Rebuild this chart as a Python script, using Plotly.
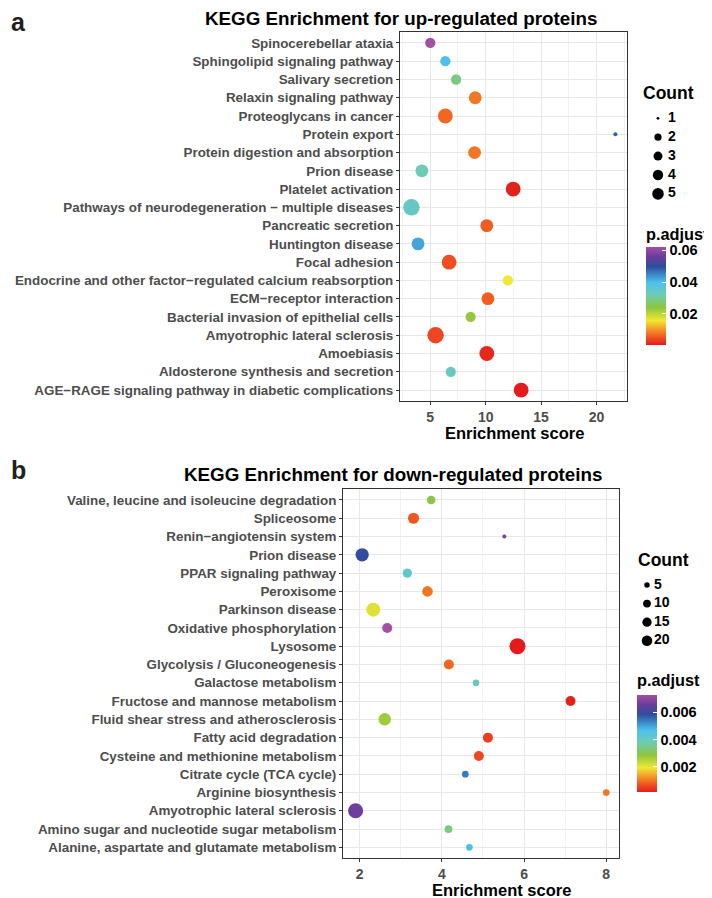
import numpy as np
import plotly.graph_objects as go

W, H = 712, 898
PAD = 8            # browser body margin: the figure starts 8px in
FW, FH = W - PAD, H - PAD

# ---- panel a : up-regulated ----
up_terms = [
    "Spinocerebellar ataxia",
    "Sphingolipid signaling pathway",
    "Salivary secretion",
    "Relaxin signaling pathway",
    "Proteoglycans in cancer",
    "Protein export",
    "Protein digestion and absorption",
    "Prion disease",
    "Platelet activation",
    "Pathways of neurodegeneration − multiple diseases",
    "Pancreatic secretion",
    "Huntington disease",
    "Focal adhesion",
    "Endocrine and other factor−regulated calcium reabsorption",
    "ECM−receptor interaction",
    "Bacterial invasion of epithelial cells",
    "Amyotrophic lateral sclerosis",
    "Amoebiasis",
    "Aldosterone synthesis and secretion",
    "AGE−RAGE signaling pathway in diabetic complications",
]
up_score = [5.0, 6.36, 7.33, 9.06, 6.36, 21.7, 9.0, 4.24, 12.48, 3.3,
            10.1, 3.9, 6.7, 12.0, 10.2, 8.64, 5.48, 10.1, 6.85, 13.2]
up_count = [2, 2, 2, 3, 4, 1, 3, 3, 4, 5, 3, 3, 4, 2, 3, 2, 5, 4, 2, 4]
up_padj = [0.062, 0.0399, 0.0288, 0.0079, 0.0067, 0.0485, 0.0079, 0.0325, 0.0011, 0.0343,
           0.006, 0.0423, 0.0048, 0.016, 0.006, 0.0233, 0.0042, 0.0017, 0.0337, 0.0005]

# ---- panel b : down-regulated ----
down_terms = [
    "Valine, leucine and isoleucine degradation",
    "Spliceosome",
    "Renin−angiotensin system",
    "Prion disease",
    "PPAR signaling pathway",
    "Peroxisome",
    "Parkinson disease",
    "Oxidative phosphorylation",
    "Lysosome",
    "Glycolysis / Gluconeogenesis",
    "Galactose metabolism",
    "Fructose and mannose metabolism",
    "Fluid shear stress and atherosclerosis",
    "Fatty acid degradation",
    "Cysteine and methionine metabolism",
    "Citrate cycle (TCA cycle)",
    "Arginine biosynthesis",
    "Amyotrophic lateral sclerosis",
    "Amino sugar and nucleotide sugar metabolism",
    "Alanine, aspartate and glutamate metabolism",
]
down_score = [3.74, 3.31, 5.52, 2.06, 3.16, 3.65, 2.33, 2.67, 5.84, 4.17,
              4.83, 7.13, 2.61, 5.12, 4.9, 4.57, 8.0, 1.9, 4.16, 4.67]
down_count = [6, 10, 3, 15, 7, 9, 17, 8, 23, 8, 4, 8, 13, 8, 8, 4, 4, 20, 5, 4]
down_padj = [0.0029, 0.00073, 0.0067, 0.0059, 0.0042, 0.001, 0.0021, 0.00727, 0.00016, 0.00087,
             0.004, 0.00023, 0.0027, 0.0005, 0.00059, 0.0054, 0.001, 0.0066, 0.0034, 0.0047]

up_count_breaks = [1, 2, 3, 4, 5]
down_count_breaks = [5, 10, 15, 20]
up_padj_ticks = [0.02, 0.04, 0.06]
down_padj_ticks = [0.002, 0.004, 0.006]

scale = [
    [0.00, "#E41A1C"],
    [0.10, "#F26522"],
    [0.25, "#F2E734"],
    [0.38, "#8DC63F"],
    [0.52, "#6DCBB8"],
    [0.64, "#4CC0EC"],
    [0.80, "#2E4E9E"],
    [0.90, "#6A3D9A"],
    [1.00, "#A34FA3"],
]

FONT = "Liberation Sans"
GREY = "#4D4D4D"


# screen pixel -> paper fraction
def px(x):
    return (x - PAD) / FW


def py(y):
    return 1 - (y - PAD) / FH


def dot_size(counts, lo, hi, dmin, dmax):
    c = np.clip(np.asarray(counts, float), lo, hi)
    return dmin + (dmax - dmin) * np.sqrt((c - lo) / (hi - lo))


up_sizes = dot_size(up_count, min(up_count), max(up_count), 4, 16.5)
down_sizes = dot_size(down_count, min(down_count), max(down_count), 4, 16)

fig = go.Figure()

fig.add_trace(go.Scatter(
    x=up_score, y=up_terms, mode="markers", xaxis="x", yaxis="y",
    marker=dict(size=up_sizes, color=up_padj, coloraxis="coloraxis", line=dict(width=0), opacity=1),
    showlegend=False, cliponaxis=False))
fig.add_trace(go.Scatter(
    x=down_score, y=down_terms, mode="markers", xaxis="x2", yaxis="y2",
    marker=dict(size=down_sizes, color=down_padj, coloraxis="coloraxis2", line=dict(width=0), opacity=1),
    showlegend=False, cliponaxis=False))


# size legends, drawn on a hidden overlay axis scaled in screen pixels
def size_legend(breaks, counts, dmin, dmax, dot_x, text_x, y0, step):
    ys = [y0 + i * step for i in range(len(breaks))]
    s = dot_size(breaks, min(counts), max(counts), dmin, dmax) * 0.7
    fig.add_trace(go.Scatter(x=[dot_x] * len(breaks), y=ys, mode="markers", xaxis="x3", yaxis="y3",
                             marker=dict(size=s, color="black", opacity=1, line=dict(width=0)),
                             showlegend=False, hoverinfo="skip"))
    fig.add_trace(go.Scatter(x=[text_x] * len(breaks), y=ys, mode="text", xaxis="x3", yaxis="y3",
                             text=[str(b) for b in breaks], textposition="middle right",
                             textfont=dict(family=FONT, size=14, color="black", weight="bold"),
                             showlegend=False, hoverinfo="skip"))


size_legend(up_count_breaks, up_count, 4, 16.5, 658, 668, 118.3, 18.9)
size_legend(down_count_breaks, down_count, 4, 16, 647, 654, 585, 18.6)


def xaxis(domain, anchor, rng, dtick, minor):
    return dict(domain=domain, anchor=anchor, range=rng, dtick=dtick, tick0=0, automargin=False,
                showgrid=True, gridcolor="#E8E8E8", gridwidth=1,
                minor=dict(dtick=minor, tick0=0, showgrid=True, gridcolor="#F2F2F2", gridwidth=0.7),
                showline=True, mirror=True, linecolor="#333333", linewidth=1,
                ticks="outside", ticklen=3, tickcolor="#333333", zeroline=False,
                tickfont=dict(family=FONT, size=14, color=GREY, weight="bold"))


def yaxis(domain, anchor, terms):
    n = len(terms)
    return dict(domain=domain, anchor=anchor, type="category", categoryorder="array",
                categoryarray=terms, range=[n - 1 + 0.6, -0.6], automargin=False,
                showgrid=True, gridcolor="#E8E8E8", gridwidth=1,
                showline=True, mirror=True, linecolor="#333333", linewidth=1,
                ticks="outside", ticklen=3, tickcolor="#333333", zeroline=False,
                tickfont=dict(family=FONT, size=13.4, color=GREY, weight="bold"))


def colorbar(ticks, fmt, x_left, top, bottom):
    return dict(x=px(x_left), xanchor="left", y=py((top + bottom) / 2), yanchor="middle",
                len=bottom - top, lenmode="pixels", thickness=20, thicknessmode="pixels",
                xpad=0, ypad=0, outlinewidth=0, tickvals=ticks, tickformat=fmt,
                ticks="inside", ticklen=4, tickcolor="white", tickwidth=1,
                tickfont=dict(family=FONT, size=14.5, color="black", weight="bold"))


def label(text, x, y, size, color="black", xanchor="center"):
    return dict(text=text, x=px(x), y=py(y), xref="paper", yref="paper",
                xanchor=xanchor, yanchor="middle", showarrow=False,
                font=dict(family=FONT, size=size, color=color, weight="bold"))


fig.update_layout(
    width=FW, height=FH, margin=dict(l=0, r=0, t=0, b=0, autoexpand=False),
    paper_bgcolor="white", plot_bgcolor="rgba(0,0,0,0)",
    xaxis=xaxis([px(400), px(627)], "y", [2.27, 22.75], 5, 2.5),
    yaxis=yaxis([py(401), py(32)], "x", up_terms),
    xaxis2=xaxis([px(343), px(619)], "y2", [1.594, 8.31], 2, 1),
    yaxis2=yaxis([py(858.3), py(489)], "x2", down_terms),
    xaxis3=dict(domain=[0, 1], anchor="y3", range=[PAD, W], visible=False, fixedrange=True),
    yaxis3=dict(domain=[0, 1], anchor="x3", range=[H, PAD], visible=False, fixedrange=True),
    coloraxis=dict(colorscale=scale, colorbar=colorbar(up_padj_ticks, ".2f", 646, 247, 345)),
    coloraxis2=dict(colorscale=scale, colorbar=colorbar(down_padj_ticks, ".3f", 637, 695, 791.7)),
    annotations=[
        label("a", 9, 22, 25, "#231F20", "left"),
        label("b", 9, 470, 25, "#231F20", "left"),
        label("KEGG Enrichment for up-regulated proteins", 401, 19, 18.8),
        label("KEGG Enrichment for down-regulated proteins", 393, 474, 18.8),
        label("Enrichment score", 514, 433, 16.5),
        label("Enrichment score", 501, 890, 16.5),
        label("Count", 641, 93, 17.5, xanchor="left"),
        label("p.adjust", 644, 234, 16.3, xanchor="left"),
        label("Count", 636, 560, 17.5, xanchor="left"),
        label("p.adjust", 635, 680, 16.3, xanchor="left"),
    ],
)

fig.write_html("out.html")
